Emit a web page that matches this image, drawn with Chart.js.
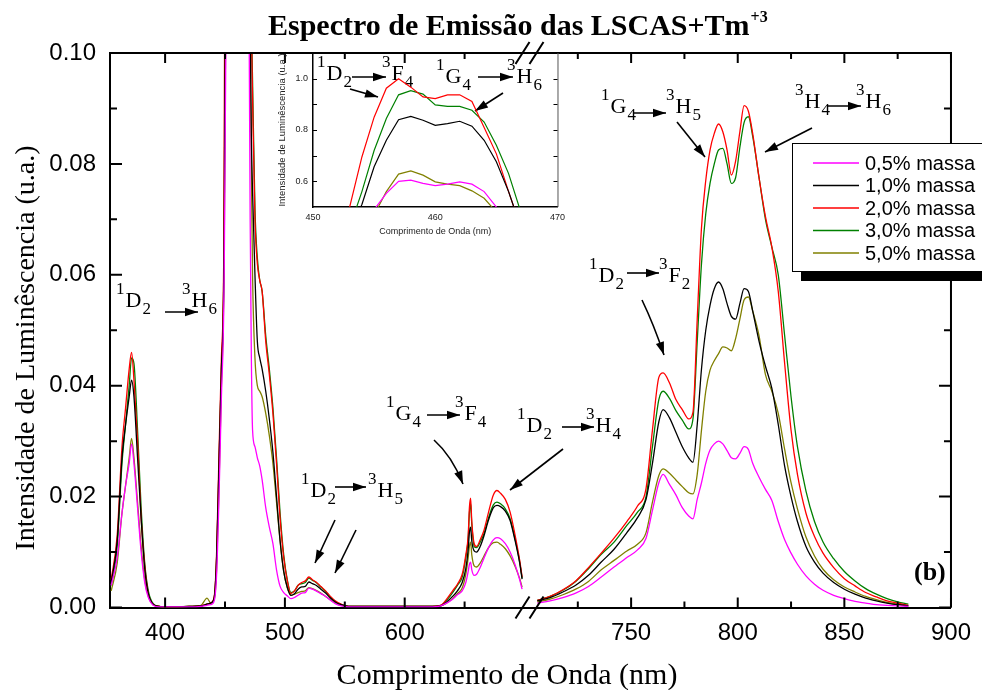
<!DOCTYPE html>
<html>
<head>
<meta charset="utf-8">
<script src="https://cdn.jsdelivr.net/npm/chart.js@4.4.0/dist/chart.umd.min.js"></script>
<style>
  html, body { margin: 0; padding: 0; background: #fff; }
  #wrap { position: relative; width: 982px; height: 690px; }
  #mainChart { position: absolute; left: 0; top: 0; }
  #insetChart { position: absolute; left: 250px; top: 40px; }
</style>
</head>
<body>
<div id="wrap">
  <canvas id="mainChart" width="982" height="690"></canvas>
  <canvas id="insetChart" width="320" height="205"></canvas>
</div>
<script>
// wavelength grid (nm); 700 is the axis break and stays empty
var wavelengths = [
  355, 360, 364, 367, 370, 372, 374, 377, 380, 383, 386, 390, 395, 400,
  420, 430, 435, 438, 441, 443, 445, 447, 449, 451, 452,
  453, 454, 455, 456, 457, 458, 459, 460, 461, 462, 463, 464, 465, 466,
  467, 468, 469, 470, 471, 472, 473, 475, 477, 479, 481,
  484, 487, 490, 493, 496, 499, 502, 505, 508,
  511, 514, 517, 520, 523, 526, 530, 534, 538, 542, 547, 553, 560, 580, 600, 620,
  630, 635, 640, 644, 648, 651, 653, 654, 655, 656, 658, 660,
  663, 666, 670, 674, 677, 680, 684, 688, 692, 696, 698, 700,
  706, 712, 718, 724, 730, 736, 742, 748, 753, 757,
  760, 763, 765, 768, 771, 774, 777, 779, 781, 783,
  785, 787, 789, 791, 793, 795, 797, 799, 801, 803,
  805, 807, 810, 813, 816, 819, 822, 825, 828, 832,
  836, 840, 845, 850, 855, 860, 865, 870, 875, 880
];

var massa05 = [
  .004, .009, .017, .022, .026, .0295, .026, .018, .010, .0045, .0018, .0004, .0001, .0001,
  .0001, .0002, .0004, .0005, .0012, .006, .020, .038, .055, .11, .20,
  .30, .38, .49, .553, .60, .605, .592, .583, .589, .598, .589, .56, .50, .38,
  .28, .20, .15, .11, .07, .045, .032, .029, .027, .0255, .023,
  .018, .0145, .0115, .0068, .0038, .0027, .0021, .0016, .0018,
  .0022, .0026, .0027, .0035, .0033, .003, .0025, .002, .0013, .0007, .0003, .0001, .0001, .0001, .0001, .0001,
  .0003, .0008, .0015, .0023, .003, .0045, .0065, .0078, .0082, .0068, .0058, .006,
  .0072, .0088, .0108, .0122, .0126, .0124, .0115, .010, .0078, .005, .0033, null,
  .0008, .0012, .0018, .0026, .0038, .0055, .0073, .009, .0104, .0125,
  .0175, .0225, .024, .0222, .0203, .018, .0165, .016, .0195, .0225,
  .026, .0284, .0295, .030, .0295, .0283, .027, .0268, .0278, .029,
  .0285, .026, .0235, .0213, .0193, .0155, .0122, .0098, .0078, .0057,
  .0042, .0031, .0022, .0016, .0011, .0008, .0005, .0004, .0003, .0002
];

var massa10 = [
  .0045, .012, .027, .033, .038, .041, .038, .027, .016, .007, .0025, .0006, .0002, .0001,
  .0002, .0003, .0006, .0008, .0018, .009, .026, .043, .060, .14, .27,
  .40, .51, .657, .76, .84, .853, .838, .818, .825, .834, .815, .76, .676, .56,
  .42, .30, .20, .14, .105, .085, .075, .060, .048, .045, .043,
  .039, .034, .028, .020, .012, .0065, .0036, .0022, .0025,
  .0033, .0037, .0038, .0046, .0043, .004, .0033, .0026, .0017, .001, .0005, .0002, .0002, .0002, .0002, .0002,
  .0003, .001, .002, .003, .0045, .007, .0105, .0135, .0145, .012, .0102, .010,
  .011, .0128, .0158, .018, .0184, .0182, .0174, .0157, .0122, .008, .0051, null,
  .0012, .0018, .0028, .004, .0058, .0082, .0105, .0135, .0162, .0195,
  .026, .0335, .0357, .0342, .0316, .029, .027, .0262, .033, .043,
  .050, .0545, .0575, .0587, .0575, .0548, .0525, .052, .0548, .0575,
  .057, .0535, .048, .0435, .0395, .033, .0255, .020, .0155, .011,
  .0082, .0062, .0045, .0033, .0024, .0017, .0012, .0008, .0005, .0003
];

var massa20 = [
  .005, .013, .029, .036, .043, .046, .041, .030, .016, .0075, .0025, .0006, .0002, .0001,
  .0002, .0003, .0006, .0008, .002, .010, .028, .045, .065, .18, .33,
  .50, .695, .85, .963, 1.0, .967, .929, .922, .937, .937, .911, .81, .707, .56,
  .42, .30, .20, .14, .115, .105, .092, .070, .062, .059, .057,
  .048, .042, .035, .026, .016, .009, .0048, .0025, .003,
  .004, .0045, .0048, .0055, .005, .0046, .0038, .003, .002, .0012, .0006, .0002, .0002, .0002, .0002, .0002,
  .0004, .0015, .003, .0042, .006, .0095, .013, .018, .0197, .0155, .0115, .011,
  .0122, .0138, .0172, .0203, .0211, .0206, .0195, .0172, .0132, .0085, .0055, null,
  .0013, .002, .0032, .0048, .0072, .0098, .0125, .0155, .0183, .0215,
  .032, .0415, .0423, .0405, .0375, .0357, .034, .0352, .052, .0685,
  .077, .0825, .0855, .0872, .0858, .0825, .078, .0805, .0858, .0905,
  .0895, .0855, .0775, .0705, .065, .057, .044, .032, .024, .017,
  .0128, .0098, .0072, .0052, .0039, .0027, .0019, .0012, .0008, .0004
];

var massa30 = [
  .004, .011, .026, .033, .040, .045, .044, .032, .018, .008, .003, .0007, .0002, .0001,
  .0002, .0003, .0006, .0008, .0018, .009, .026, .043, .062, .15, .28,
  .42, .56, .72, .845, .937, .953, .94, .898, .892, .892, .877, .831, .741, .63,
  .48, .35, .24, .16, .125, .107, .095, .072, .063, .059, .057,
  .049, .043, .036, .027, .017, .0095, .005, .0027, .003,
  .004, .0043, .0045, .0053, .0049, .0045, .0037, .0029, .0019, .0011, .0005, .0002, .0002, .0002, .0002, .0002,
  .0004, .0013, .0027, .004, .0055, .009, .0125, .017, .0188, .015, .011, .0108,
  .0118, .0132, .0162, .0185, .019, .0187, .0178, .016, .0125, .0082, .0053, null,
  .0013, .002, .0031, .0047, .007, .0096, .0118, .0148, .0172, .020,
  .029, .0375, .039, .0377, .0355, .0338, .0322, .034, .048, .062,
  .071, .0765, .080, .0825, .0828, .080, .0765, .0775, .083, .0875,
  .0885, .085, .0775, .070, .065, .060, .049, .038, .029, .021,
  .0155, .0118, .0088, .0065, .0048, .0034, .0024, .0016, .001, .0006
];

var massa50 = [
  .003, .008, .017, .022, .027, .0305, .027, .019, .011, .005, .002, .0005, .0002, .0001,
  .0002, .0004, .0017, .0008, .0015, .007, .022, .040, .058, .12, .22,
  .30, .38, .47, .56, .628, .641, .624, .598, .589, .583, .563, .534, .48, .40,
  .30, .22, .16, .12, .10, .08, .06, .045, .040, .039, .038,
  .035, .031, .026, .019, .012, .0065, .0036, .0022, .0024,
  .0027, .0029, .003, .0036, .0034, .0031, .0026, .002, .0014, .0008, .0004, .0002, .0002, .0002, .0002, .0002,
  .0003, .0008, .0016, .0025, .0035, .006, .009, .011, .0118, .0095, .0075, .0073,
  .008, .0092, .0108, .0117, .0118, .0114, .0106, .0093, .0075, .0052, .0037, null,
  .001, .0015, .0023, .0033, .0047, .0068, .0085, .0102, .0114, .0135,
  .019, .0238, .025, .0242, .023, .0218, .0207, .0205, .024, .032,
  .039, .0428, .0445, .0458, .047, .0468, .0463, .0485, .052, .0555,
  .056, .0535, .049, .042, .039, .035, .0285, .0225, .0178, .0127,
  .0093, .0069, .005, .0037, .0028, .002, .0014, .0009, .0006, .0003
];

var seriesLabels = ["0,5% massa", "1,0% massa", "2,0% massa", "3,0% massa", "5,0% massa"];
var seriesValues = [massa05, massa10, massa20, massa30, massa50];
var seriesColors = ["#ff00ff", "#000000", "#ff0000", "#008000", "#808000"];

var xMajorTicks = [400, 500, 600, 750, 800, 850, 900];
var xMinorTicks = [450, 550, 650, 725, 775, 825, 875];
var yMajorTicks = [0, 0.02, 0.04, 0.06, 0.08, 0.10];
var yMinorTicks = [0.01, 0.03, 0.05, 0.07, 0.09];
var insetXTicks = [450, 460, 470];
var insetYTicks = [0.6, 0.8, 1.0];
var insetYMinor = [0.7, 0.9];

var SERIF = '"Liberation Serif", "Times New Roman", serif';
var SANS = '"Liberation Sans", Arial, sans-serif';

// broken x axis: above 700 nm the scale is stretched
var BREAK_NM = 700;
var STRETCH = 1.78;
function toAxis(nm) {
  return nm <= BREAK_NM ? nm : BREAK_NM + (nm - BREAK_NM) * STRETCH;
}
function fromAxis(u) {
  return u <= BREAK_NM ? u : BREAK_NM + (u - BREAK_NM) / STRETCH;
}

function points(values, mapX, lo, hi) {
  var out = [];
  for (var i = 0; i < wavelengths.length; i++) {
    var nm = wavelengths[i];
    if (nm < lo || nm > hi) continue;
    out.push({ x: mapX(nm), y: values[i] });
  }
  return out;
}

function makeDatasets(mapX, lo, hi, width) {
  return seriesValues.map(function (vals, i) {
    return {
      label: seriesLabels[i],
      data: points(vals, mapX, lo, hi),
      borderColor: seriesColors[i],
      backgroundColor: seriesColors[i],
      borderWidth: width,
      pointRadius: 0,
      fill: false,
      spanGaps: false
    };
  });
}

// ---- text helpers for the spectroscopic labels ----
function level(ctx, x, y, sup, letter, sub) {
  ctx.font = "17px " + SERIF;
  ctx.fillText(sup, x, y - 13);
  var x2 = x + ctx.measureText(sup).width + 1;
  ctx.font = "22px " + SERIF;
  ctx.fillText(letter, x2, y);
  var x3 = x2 + ctx.measureText(letter).width + 1;
  ctx.font = "17px " + SERIF;
  ctx.fillText(sub, x3, y + 7);
}

function arrow(ctx, x1, y1, x2, y2, cx, cy) {
  var ax = x1, ay = y1;
  ctx.beginPath();
  ctx.moveTo(x1, y1);
  if (cx !== undefined) {
    ctx.quadraticCurveTo(cx, cy, x2, y2);
    ax = cx; ay = cy;
  } else {
    ctx.lineTo(x2, y2);
  }
  ctx.stroke();
  var ang = Math.atan2(y2 - ay, x2 - ax);
  var len = 13, w = 4.2;
  var c = Math.cos(ang), s = Math.sin(ang);
  ctx.beginPath();
  ctx.moveTo(x2, y2);
  ctx.lineTo(x2 - len * c + w * s, y2 - len * s - w * c);
  ctx.lineTo(x2 - len * c - w * s, y2 - len * s + w * c);
  ctx.closePath();
  ctx.fill();
}

var mainDecor = {
  id: "mainDecor",
  afterDraw: function (chart) {
    var ctx = chart.ctx, a = chart.chartArea;
    var xs = chart.scales.x, ys = chart.scales.y;
    ctx.save();
    ctx.strokeStyle = "#000";
    ctx.fillStyle = "#000";

    // top and right frame
    ctx.lineWidth = 2;
    ctx.beginPath();
    ctx.moveTo(a.left, a.top);
    ctx.lineTo(a.right, a.top);
    ctx.lineTo(a.right, a.bottom);
    ctx.stroke();

    // inward ticks on all four sides
    function xTick(nm, len) {
      var px = xs.getPixelForValue(toAxis(nm));
      ctx.beginPath();
      ctx.moveTo(px, a.bottom); ctx.lineTo(px, a.bottom - len);
      ctx.moveTo(px, a.top); ctx.lineTo(px, a.top + len);
      ctx.stroke();
    }
    function yTick(v, len) {
      var py = ys.getPixelForValue(v);
      ctx.beginPath();
      ctx.moveTo(a.left, py); ctx.lineTo(a.left + len, py);
      ctx.moveTo(a.right, py); ctx.lineTo(a.right - len, py);
      ctx.stroke();
    }
    xMajorTicks.forEach(function (v) { xTick(v, 10); });
    xMinorTicks.forEach(function (v) { xTick(v, 6); });
    yMajorTicks.forEach(function (v) { yTick(v, 12); });
    yMinorTicks.forEach(function (v) { yTick(v, 7); });

    // axis break marks
    var bx = xs.getPixelForValue(toAxis(BREAK_NM));
    ctx.lineWidth = 2;
    [a.bottom, a.top].forEach(function (yy) {
      ctx.beginPath();
      ctx.moveTo(bx - 9, yy + 11); ctx.lineTo(bx + 5, yy - 11);
      ctx.moveTo(bx + 5, yy + 11); ctx.lineTo(bx + 19, yy - 11);
      ctx.stroke();
    });

    // chart title with superscript charge
    ctx.textAlign = "left";
    ctx.textBaseline = "alphabetic";
    ctx.font = "bold 30px " + SERIF;
    var t = "Espectro de Emiss\u00e3o das LSCAS+Tm";
    ctx.fillText(t, 268, 35);
    var tw = ctx.measureText(t).width;
    ctx.font = "bold 16px " + SERIF;
    ctx.fillText("+3", 268 + tw + 1, 22);

    // axis titles
    ctx.font = "30px " + SERIF;
    ctx.textAlign = "center";
    ctx.fillText("Comprimento de Onda (nm)", 507, 684);
    ctx.save();
    ctx.translate(34, 348);
    ctx.rotate(-Math.PI / 2);
    ctx.font = "28px " + SERIF;
    ctx.fillText("Intensidade de Lumin\u00eascencia (u.a.)", 0, 0);
    ctx.restore();

    // transition labels
    ctx.textAlign = "left";
    ctx.lineWidth = 1.6;
    level(ctx, 116, 307, "1", "D", "2");
    arrow(ctx, 165, 312, 198, 312);
    level(ctx, 182, 307, "3", "H", "6");

    level(ctx, 317, 80, "1", "D", "2");
    arrow(ctx, 352, 77, 386, 77);
    level(ctx, 382, 80, "3", "F", "4");
    arrow(ctx, 350, 89, 378, 97);
    level(ctx, 436, 83, "1", "G", "4");
    arrow(ctx, 478, 77, 513, 77);
    level(ctx, 507, 83, "3", "H", "6");
    arrow(ctx, 503, 93, 475, 111);

    level(ctx, 301, 497, "1", "D", "2");
    arrow(ctx, 335, 487, 366, 487);
    level(ctx, 368, 497, "3", "H", "5");
    arrow(ctx, 335, 520, 315, 563);
    arrow(ctx, 356, 530, 335, 573);

    level(ctx, 386, 420, "1", "G", "4");
    arrow(ctx, 427, 415, 460, 415);
    level(ctx, 455, 420, "3", "F", "4");
    arrow(ctx, 434, 440, 463, 484, 452, 456);

    level(ctx, 517, 432, "1", "D", "2");
    arrow(ctx, 562, 427, 594, 427);
    level(ctx, 586, 432, "3", "H", "4");
    arrow(ctx, 563, 449, 510, 490);

    level(ctx, 589, 282, "1", "D", "2");
    arrow(ctx, 627, 273, 659, 273);
    level(ctx, 659, 282, "3", "F", "2");
    arrow(ctx, 642, 300, 664, 355, 654, 325);

    level(ctx, 601, 113, "1", "G", "4");
    arrow(ctx, 633, 113, 666, 113);
    level(ctx, 666, 113, "3", "H", "5");
    arrow(ctx, 677, 122, 705, 157);

    level(ctx, 795, 108, "3", "H", "4");
    arrow(ctx, 828, 106, 861, 106);
    level(ctx, 856, 108, "3", "H", "6");
    arrow(ctx, 812, 128, 765, 152);

    ctx.font = "bold 26px " + SERIF;
    ctx.fillText("(b)", 914, 580);

    // legend box with drop shadow
    ctx.fillStyle = "#000";
    ctx.fillRect(801, 152, 200, 129);
    ctx.fillStyle = "#fff";
    ctx.fillRect(792, 143, 200, 129);
    ctx.lineWidth = 1;
    ctx.strokeStyle = "#000";
    ctx.strokeRect(792.5, 143.5, 200, 128);
    ctx.font = "20px " + SANS;
    ctx.textBaseline = "middle";
    chart.data.datasets.forEach(function (ds, i) {
      var yy = 163 + 22.5 * i;
      ctx.strokeStyle = ds.borderColor;
      ctx.lineWidth = 1.3;
      ctx.beginPath();
      ctx.moveTo(813, yy); ctx.lineTo(859, yy);
      ctx.stroke();
      ctx.fillStyle = "#000";
      ctx.fillText(ds.label, 865, yy + 1);
    });
    ctx.restore();
  }
};

var insetDecor = {
  id: "insetDecor",
  afterDraw: function (chart) {
    var ctx = chart.ctx, a = chart.chartArea, ys = chart.scales.y;
    ctx.save();
    ctx.strokeStyle = "#555";
    ctx.lineWidth = 1;
    ctx.beginPath();
    ctx.moveTo(a.right + 0.5, a.top); ctx.lineTo(a.right + 0.5, a.bottom);
    ctx.stroke();
    ctx.strokeStyle = "#000";
    insetYTicks.concat(insetYMinor).forEach(function (v) {
      var py = Math.round(ys.getPixelForValue(v)) + 0.5;
      ctx.beginPath();
      ctx.moveTo(a.left, py); ctx.lineTo(a.left + 4, py);
      ctx.moveTo(a.right, py); ctx.lineTo(a.right - 4, py);
      ctx.stroke();
    });
    ctx.restore();
  }
};

new Chart(document.getElementById("mainChart"), {
  type: "line",
  data: { datasets: makeDatasets(toAxis, 0, 2000, 1.3) },
  options: {
    responsive: false,
    animation: false,
    devicePixelRatio: 1,
    layout: { padding: { top: 53, right: 26, left: 0, bottom: 0 } },
    elements: { line: { cubicInterpolationMode: "monotone" } },
    plugins: { legend: { display: false }, tooltip: { enabled: false } },
    scales: {
      x: {
        type: "linear",
        min: toAxis(354),
        max: toAxis(900),
        grid: { display: false, drawTicks: false },
        border: { display: true, color: "#000", width: 2 },
        afterBuildTicks: function (scale) {
          scale.ticks = xMajorTicks.map(function (v) { return { value: toAxis(v) }; });
        },
        afterFit: function (scale) { scale.height = 82.5; },
        ticks: {
          color: "#000",
          font: { family: SANS, size: 24 },
          padding: 11,
          maxRotation: 0,
          autoSkip: false,
          callback: function (v) { return String(Math.round(fromAxis(v))); }
        }
      },
      y: {
        min: 0,
        max: 0.1,
        grid: { display: false, drawTicks: false },
        border: { display: true, color: "#000", width: 2 },
        afterBuildTicks: function (scale) {
          scale.ticks = yMajorTicks.map(function (v) { return { value: v }; });
        },
        afterFit: function (scale) { scale.width = 110; },
        ticks: {
          color: "#000",
          font: { family: SANS, size: 24 },
          padding: 14,
          callback: function (v) { return v.toFixed(2); }
        }
      }
    }
  },
  plugins: [mainDecor]
});

new Chart(document.getElementById("insetChart"), {
  type: "line",
  data: { datasets: makeDatasets(function (nm) { return nm; }, 447, 474, 1.2) },
  options: {
    responsive: false,
    animation: false,
    devicePixelRatio: 1,
    layout: { padding: { top: 13, right: 12, left: 0, bottom: 0 } },
    elements: { line: { tension: 0 } },
    plugins: { legend: { display: false }, tooltip: { enabled: false } },
    scales: {
      x: {
        type: "linear",
        min: 450,
        max: 470,
        grid: { display: false, drawTicks: false },
        border: { display: true, color: "#000", width: 1.5 },
        afterBuildTicks: function (scale) {
          scale.ticks = insetXTicks.map(function (v) { return { value: v }; });
        },
        afterFit: function (scale) { scale.height = 38; },
        ticks: { color: "#222", font: { family: SANS, size: 9 }, padding: 5, maxRotation: 0 },
        title: {
          display: true,
          text: "Comprimento de Onda (nm)",
          color: "#222",
          font: { family: SANS, size: 9 },
          padding: { top: 0, bottom: 8 }
        }
      },
      y: {
        min: 0.5,
        max: 1.1,
        grid: { display: false, drawTicks: false },
        border: { display: true, color: "#000", width: 1.5 },
        afterBuildTicks: function (scale) {
          scale.ticks = insetYTicks.map(function (v) { return { value: v }; });
        },
        afterFit: function (scale) { scale.width = 63; },
        ticks: {
          color: "#222",
          font: { family: SANS, size: 9 },
          padding: 5,
          callback: function (v) { return v.toFixed(1); }
        },
        title: {
          display: true,
          text: "Intensidade de Lumin\u00eascencia (u.a.)",
          color: "#222",
          font: { family: SANS, size: 9.5 },
          padding: { top: 27, bottom: 0 }
        }
      }
    }
  },
  plugins: [insetDecor]
});
</script>
</body>
</html>
